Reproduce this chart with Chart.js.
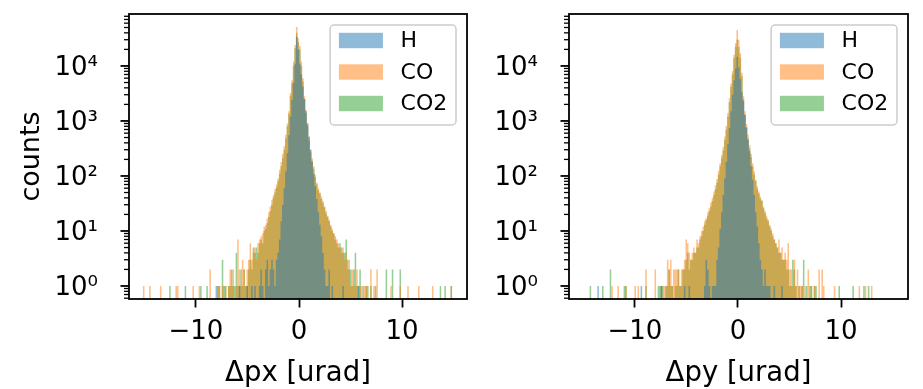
<!DOCTYPE html>
<html>
<head>
<meta charset="utf-8">
<script src="https://cdn.jsdelivr.net/npm/chart.js@4"></script>
<style>
  body { margin: 0; background: #fff; }
  #wrap { position: relative; width: 923px; height: 389px; }
  .panel { position: absolute; top: 0; height: 389px; }
</style>
</head>
<body>
<div id="wrap">
  <div class="panel" style="left:0;width:470px"><canvas id="pxChart"></canvas></div>
  <div class="panel" style="left:470px;width:453px"><canvas id="pyChart"></canvas></div>
</div>
<script>
// histogram bins: dense core from coreStart, 100 bins of binWidth
const binWidth = 0.15;
const coreStart = -7.5;
const fullFrom = -15.3, fullTo = 15.3; // whole histogram range

const seriesNames = ['H', 'CO', 'CO2'];
const seriesColors = ['rgba(31,119,180,0.5)', 'rgba(255,127,14,0.5)', 'rgba(44,160,44,0.5)'];

const xTicks = [-10, 0, 10];
const yTicks = [1, 10, 100, 1000, 10000];
const yTickLabels = ['10⁰', '10¹', '10²', '10³', '10⁴'];

// Δpx counts, core bins
const pxH = [
  0, 0, 0, 0, 0, 0, 0, 0, 0, 0,
  0, 1, 0, 0, 0, 0, 1, 0, 0, 1,
  0, 1, 0, 0, 1, 2, 1, 0, 2, 3,
  1, 2, 3, 2, 1, 3, 4, 7, 15, 30,
  60, 120, 260, 550, 1200, 2400, 5000, 11000, 34000, 20000,
  11000, 7000, 4200, 2500, 1500, 900, 520, 300, 180, 110,
  65, 38, 22, 13, 8, 4, 2, 1, 1, 2,
  0, 1, 0, 0, 0, 0, 0, 0, 1, 0,
  0, 0, 0, 0, 0, 0, 0, 0, 1, 0,
  0, 0, 0, 0, 0, 0, 0, 0, 0, 0
];
const pxCO = [
  1, 0, 1, 0, 1, 2, 1, 2, 0, 1,
  7, 2, 1, 3, 2, 1, 2, 3, 6, 3,
  4, 5, 3, 6, 7, 8, 9, 12, 13, 17,
  22, 28, 37, 45, 58, 70, 90, 130, 180, 250,
  350, 560, 900, 1500, 3200, 5500, 12000, 24000, 51000, 32000,
  23000, 12000, 6000, 2800, 1600, 900, 500, 300, 210, 150,
  105, 75, 60, 50, 42, 35, 28, 23, 19, 16,
  13, 11, 9, 8, 7, 6, 5, 4, 5, 3,
  4, 2, 3, 1, 2, 1, 1, 2, 0, 1,
  1, 0, 1, 1, 0, 0, 2, 0, 1, 0
];
const pxCO2 = [
  3, 1, 1, 0, 1, 1, 2, 1, 1, 4,
  1, 1, 2, 1, 2, 1, 1, 2, 3, 2,
  5, 4, 5, 4, 6, 7, 6, 10, 11, 14,
  18, 23, 30, 40, 50, 62, 80, 110, 150, 210,
  300, 480, 800, 1350, 2800, 4800, 10000, 21000, 40000, 27000,
  20000, 10000, 5200, 2500, 1400, 800, 440, 270, 190, 135,
  95, 70, 55, 48, 38, 32, 27, 21, 18, 15,
  12, 10, 9, 7, 6, 5, 6, 5, 4, 4,
  7, 3, 2, 2, 1, 2, 4, 1, 1, 2,
  0, 1, 0, 1, 1, 0, 1, 0, 0, 1
];
// Δpx outliers beyond the core: [value, count]
const pxTailH = [[-8.0, 1]];
const pxTailCO = [[-15.05, 1], [-14.45, 1], [-13.4, 1], [-11.95, 1], [-11.8, 1], [-10.25, 1], [-9.7, 1],
  [-8.57, 2], [-7.93, 1], [-7.7, 1], [7.55, 2], [8.9, 1], [9.8, 1], [10.6, 1], [11.6, 1], [12.95, 1], [14.75, 1]];
const pxTailCO2 = [[-12.46, 1], [-11.0, 1], [-9.54, 1], [-8.93, 1], [-7.93, 1], [-7.7, 1],
  [8.45, 2], [9.05, 2], [9.8, 2], [13.7, 1], [14.2, 1], [14.75, 1]];

// Δpy counts, core bins
const pyH = [
  1, 0, 0, 0, 0, 0, 0, 0, 0, 0,
  0, 0, 0, 0, 0, 1, 0, 0, 1, 0,
  0, 0, 0, 0, 0, 0, 0, 0, 1, 3,
  2, 1, 0, 1, 1, 1, 3, 5, 11, 22,
  45, 90, 180, 380, 750, 1500, 3000, 5500, 9000, 14700,
  9500, 5800, 3400, 2300, 1300, 750, 450, 280, 150, 85,
  45, 22, 12, 6, 3, 2, 1, 2, 1, 1,
  1, 0, 0, 1, 0, 0, 0, 0, 1, 0,
  0, 0, 0, 0, 0, 0, 0, 0, 0, 0,
  0, 0, 0, 0, 0, 0, 0, 0, 0, 0
];
const pyCO = [
  1, 0, 1, 1, 3, 2, 3, 1, 2, 2,
  2, 2, 1, 2, 2, 3, 7, 6, 4, 3,
  4, 5, 4, 7, 6, 8, 10, 12, 15, 17,
  22, 26, 33, 40, 52, 68, 88, 125, 170, 240,
  340, 520, 820, 1400, 2600, 4800, 8000, 16000, 26000, 45000,
  30000, 17000, 7500, 2800, 1500, 880, 560, 360, 250, 170,
  120, 85, 65, 52, 42, 35, 28, 23, 19, 16,
  13, 11, 9, 7, 6, 5, 7, 4, 5, 3,
  4, 3, 6, 2, 2, 1, 3, 1, 2, 1,
  1, 1, 0, 1, 0, 2, 0, 1, 0, 1
];
const pyCO2 = [
  1, 1, 0, 1, 1, 2, 1, 1, 0, 1,
  1, 2, 1, 1, 2, 2, 3, 4, 2, 3,
  3, 4, 4, 5, 5, 7, 8, 10, 13, 16,
  19, 23, 28, 35, 45, 58, 75, 105, 150, 210,
  290, 450, 700, 1200, 2200, 4200, 7000, 14000, 22000, 30000,
  22000, 14000, 6500, 2500, 1300, 780, 480, 320, 220, 150,
  105, 80, 58, 48, 38, 36, 26, 21, 17, 15,
  12, 10, 8, 7, 6, 5, 4, 4, 3, 3,
  3, 2, 2, 1, 1, 3, 2, 1, 0, 1,
  0, 1, 3, 0, 1, 0, 1, 1, 0, 1
];
// Δpy outliers beyond the core: [value, count]
const pyTailH = [[-13.6, 1], [-9.35, 1]];
const pyTailCO = [[-12.2, 1], [-11.7, 1], [-10.9, 1], [-10.0, 1], [-9.7, 1], [-8.9, 2], [-8.05, 2],
  [7.9, 2], [8.15, 2], [8.35, 1], [9.4, 1], [11.8, 1], [12.35, 1], [13.0, 1]];
const pyTailCO2 = [[-14.35, 1], [-13.1, 1], [-12.4, 2], [-11.1, 1], [-10.8, 1], [-8.9, 1], [-7.8, 1], [-7.6, 1],
  [7.6, 1], [9.8, 1], [11.1, 1], [12.15, 1], [12.6, 1]];

const FONT = 'DejaVu Sans';
const EMPTY = 0.1; // empty bins sit below the axis floor

const binIndex = v => Math.floor((v - coreStart) / binWidth);
const binCenter = k => coreStart + (k + 0.5) * binWidth;

// every bin of the range, so the filled step outline is continuous
const toSteps = (core, tail) => {
  const counts = {};
  core.forEach((c, k) => { counts[k] = c; });
  tail.forEach(([v, c]) => { counts[binIndex(v)] = c; });
  const pts = [];
  for (let k = binIndex(fullFrom); k <= binIndex(fullTo); k++) {
    const c = counts[k] || 0;
    pts.push({ x: binCenter(k), y: c > 0 ? c : EMPTY });
  }
  return pts;
};

const minorTicks = [];
for (let e = -1; e <= 4; e++) {
  for (let m = 2; m <= 9; m++) minorTicks.push(m * Math.pow(10, e));
}

// spines, log tick marks and the legend box
const framePlugin = {
  id: 'frame',
  afterDraw(chart) {
    const { ctx, chartArea: a } = chart;
    const y = chart.scales.y;
    ctx.save();
    ctx.strokeStyle = '#000';
    ctx.lineWidth = 1.8;
    yTicks.forEach(v => {
      const py = y.getPixelForValue(v);
      ctx.beginPath(); ctx.moveTo(a.left - 8.5, py); ctx.lineTo(a.left, py); ctx.stroke();
    });
    ctx.lineWidth = 1.3;
    minorTicks.forEach(v => {
      if (v < y.min || v > y.max) return;
      const py = y.getPixelForValue(v);
      ctx.beginPath(); ctx.moveTo(a.left - 5, py); ctx.lineTo(a.left, py); ctx.stroke();
    });
    ctx.lineWidth = 1.8;
    ctx.strokeRect(a.left, a.top, a.right - a.left, a.bottom - a.top);

    // legend
    ctx.font = '22px "' + FONT + '"';
    const textW = Math.max(...seriesNames.map(n => ctx.measureText(n).width));
    const pad = 8.8, handle = 44, gap = 17.6;
    const w = pad + handle + gap + textW + pad, h = 100;
    const right = a.right - 11, top = a.top + 11, left = right - w;
    ctx.beginPath();
    ctx.roundRect(left, top, w, h, 4);
    ctx.fillStyle = 'rgba(255,255,255,0.8)';
    ctx.fill();
    ctx.strokeStyle = '#cccccc';
    ctx.lineWidth = 1.5;
    ctx.stroke();
    ctx.textBaseline = 'middle';
    seriesNames.forEach((n, i) => {
      const cy = top + 15.5 + i * 31.5;
      ctx.fillStyle = seriesColors[i];
      ctx.fillRect(left + pad, cy - 7.7, handle, 15.4);
      ctx.fillStyle = '#000';
      ctx.fillText(n, left + pad + handle + gap, cy + 1);
    });
    ctx.restore();
  }
};

const makeChart = (id, cores, tails, xMin, xMax, xLabel, yWidth, padRight, showYTitle) => {
  const ctx = document.getElementById(id).getContext('2d');
  return new Chart(ctx, {
    type: 'line',
    data: {
      datasets: seriesNames.map((n, i) => ({
        label: n,
        data: toSteps(cores[i], tails[i]),
        stepped: 'middle',
        fill: 'start',
        backgroundColor: seriesColors[i],
        borderColor: 'rgba(0,0,0,0)',
        borderWidth: 0,
        pointRadius: 0,
        tension: 0
      }))
    },
    options: {
      responsive: true,
      maintainAspectRatio: false,
      animation: false,
      layout: { padding: { top: 14, right: padRight, left: 0, bottom: 0 } },
      plugins: { legend: { display: false }, tooltip: { enabled: false } },
      scales: {
        x: {
          type: 'linear',
          min: xMin,
          max: xMax,
          offset: false,
          afterBuildTicks: s => { s.ticks = xTicks.map(v => ({ value: v })); },
          afterFit: s => { s.height = 90; s.paddingLeft = 0; s.paddingRight = 0; },
          grid: { offset: false, drawOnChartArea: false, tickLength: 8.5, tickWidth: 1.8, tickColor: '#000' },
          border: { display: false },
          ticks: {
            color: '#000',
            font: { family: FONT, size: 26 },
            padding: 9,
            maxRotation: 0,
            autoSkip: false,
            callback: v => (v < 0 ? '\u2212' + Math.abs(v) : String(v))
          },
          title: {
            display: true,
            text: xLabel,
            color: '#000',
            font: { family: FONT, size: 27.5 },
            padding: { top: 0, bottom: -1 }
          }
        },
        y: {
          type: 'logarithmic',
          min: 0.58,
          max: 88000,
          afterBuildTicks: s => { s.ticks = yTicks.map(v => ({ value: v })); },
          afterFit: s => { s.width = yWidth; s.paddingTop = 0; s.paddingBottom = 0; },
          grid: { display: false },
          border: { display: false },
          ticks: {
            color: '#000',
            font: { family: FONT, size: 26 },
            padding: 23,
            labelOffset: 2,
            autoSkip: false,
            callback: v => {
              const i = yTicks.indexOf(v);
              return i >= 0 ? yTickLabels[i] : '';
            }
          },
          title: {
            display: showYTitle,
            text: 'counts',
            color: '#000',
            font: { family: FONT, size: 27 },
            padding: { top: 16, bottom: 0 }
          }
        }
      }
    },
    plugins: [framePlugin]
  });
};

makeChart('pxChart', [pxH, pxCO, pxCO2], [pxTailH, pxTailCO, pxTailCO2], -16.5, 16.3, 'Δpx [urad]', 129, 3, true);
makeChart('pyChart', [pyH, pyCO, pyCO2], [pyTailH, pyTailCO, pyTailCO2], -16.4, 16.5, 'Δpy [urad]', 99, 15, false);
</script>
</body>
</html>
